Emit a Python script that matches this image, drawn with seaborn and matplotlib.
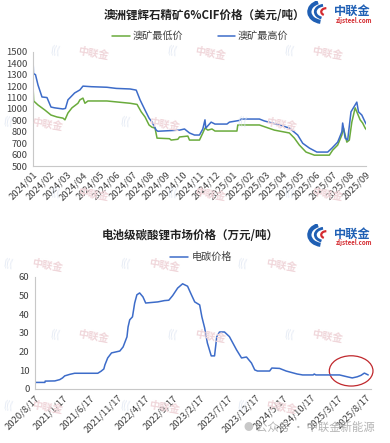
import matplotlib
matplotlib.use("Agg")
import matplotlib.pyplot as plt
import seaborn as sns
import pandas as pd
from matplotlib.patches import Ellipse, Arc

# ---- 上图：澳洲锂辉石精矿 6% CIF（美元/吨），x 为月序号 0 = 2024/01
low_month = [0, 0.04, 0.3, 0.72, 1.08, 1.44, 1.8, 1.92, 2.1, 2.34, 2.7, 2.82, 3.0, 3.12, 3.3,
             4.44, 5.83, 6.25, 6.5, 6.73, 6.97, 7.15, 7.33, 7.45, 8.2, 8.3, 8.7, 8.8, 9.3,
             9.4, 10.0, 10.2, 10.33, 10.5, 10.75, 10.93, 12.25, 12.3, 13.6, 14.5, 15.4,
             15.7, 16.0, 16.4, 16.9, 17.8, 18.0, 18.3, 18.55, 18.65, 18.85, 19.0, 19.15,
             19.35, 19.45, 19.65, 19.8, 19.95, 20.05]
low_price = [1210, 1070, 1035, 990, 947, 930, 920, 905, 965, 1010, 1050, 1080, 1095, 1050, 1070,
             1070, 1050, 1040, 975, 930, 860, 840, 833, 745, 740, 728, 735, 755, 763,
             728, 728, 790, 833, 815, 825, 807, 807, 860, 860, 815, 790,
             745, 684, 623, 596, 596, 640, 684, 772, 833, 710, 728, 885,
             1010, 975, 905, 877, 833, 815]

high_month = [0, 0.03, 0.15, 0.3, 0.54, 0.84, 1.08, 1.3, 1.8, 1.95, 2.1, 2.5, 2.82, 3.0, 3.5,
              4.44, 5.0, 5.83, 6.2, 6.43, 6.73, 6.97, 7.15, 7.4, 7.5, 8.8, 9.1, 9.4, 9.7,
              10.0, 10.2, 10.33, 10.38, 10.7, 10.93, 11.65, 11.8, 12.4, 12.5, 13.6, 13.9,
              14.8, 15.4, 15.9, 16.2, 16.6, 17.05, 17.7, 17.96, 18.3, 18.55, 18.6, 18.75,
              18.9, 19.1, 19.45, 19.55, 19.75, 19.95, 20.05]
high_price = [1456, 1310, 1300, 1210, 1105, 1100, 1017, 1010, 1000, 1005, 1080, 1140, 1167, 1200, 1195,
              1190, 1180, 1175, 1165, 1080, 990, 920, 885, 815, 805, 815, 825, 790, 772,
              772, 825, 905, 833, 885, 868, 868, 885, 900, 912, 912, 895,
              860, 833, 772, 700, 658, 623, 623, 658, 710, 800, 877, 745,
              728, 975, 1060, 975, 947, 885, 860]

top_ticks = list(range(0, 21))
top_labels = ["2024/01", "2024/02", "2024/03", "2024/04", "2024/05", "2024/06", "2024/07",
              "2024/08", "2024/09", "2024/10", "2024/11", "2024/12", "2025/01", "2025/02",
              "2025/03", "2025/04", "2025/05", "2025/06", "2025/07", "2025/08", "2025/09"]

# ---- 下图：电池级碳酸锂（万元/吨），x 为月序号 0 = 2020/8/17
li_month = [0, 1.8, 1.85, 3.6, 4.5, 5.0, 5.4, 6.3, 7.2, 11.4, 12.0, 12.5, 12.7, 13.2, 13.9,
            15.4, 16.0, 16.7, 16.9, 17.2, 17.7, 18.1, 18.5, 19.0, 19.6, 20.1, 22.3, 23.5,
            24.3, 25, 25.9, 26.8, 27.7, 28.4, 29, 29.9, 30.3, 30.8, 31.3, 32, 32.6, 33,
            33.5, 34.4, 35.3, 36.6, 37.5, 38.4, 39.3, 39.9, 40.4, 42.6, 43, 44.4, 45.6,
            47.6, 48.6, 50.5, 50.7, 51.0, 55.3, 56.7, 57.6, 58.5, 59.2, 59.8, 60.5]
li_price = [3.5, 3.5, 4.2, 4.3, 5, 5.9, 7, 7.8, 8.4, 8.4, 9.5, 10.7, 12.9, 16.6, 19.3,
            20.3, 22.5, 27.9, 33.2, 37, 38.6, 46, 50.4, 51.4, 49.3, 46, 46.6, 47.3,
            47.5, 50, 54, 56.3, 55, 50.4, 46.6, 45, 38.6, 32.7, 24.6, 17.7, 17.7, 27.9,
            30.5, 30.5, 28, 20.9, 16.6, 17.1, 13.9, 10.2, 9.6, 9.6, 11.2, 11, 9.6,
            8, 7.5, 7.5, 8, 7.5, 7.5, 6.5, 5.9, 6.5, 7.3, 8.5, 7.5]

bot_ticks = list(range(0, 61, 5))
bot_labels = ["2020/8/17", "2021/1/17", "2021/6/17", "2021/11/17", "2022/4/17", "2022/9/17",
              "2023/2/17", "2023/7/17", "2023/12/17", "2024/5/17", "2024/10/17", "2025/3/17",
              "2025/8/17"]

BLUE = "#3d6cc9"
GREEN = "#6aab3c"
GREY = "#c8c8c8"

sns.set_theme(style="white")
plt.rcParams['font.family'] = ['Noto Sans CJK SC', 'DejaVu Sans']
plt.rcParams['axes.unicode_minus'] = False

fig = plt.figure(figsize=(3.9, 4.43), dpi=100)
fig.patch.set_facecolor("white")

# 水印（很淡）
for row, wy in enumerate([0.08, 0.24, 0.40, 0.56, 0.72, 0.88]):
    off = 0.12 if row % 2 else 0.0
    for wx in [0.12, 0.42, 0.72]:
        fig.text(wx + off, wy, "中联金", fontsize=7.5, color="#f0d6da",
                 rotation=-10, ha="center", va="center", fontweight="bold", zorder=0)
        fig.text(wx + off - 0.1, wy + 0.005, "(((", fontsize=7, color="#dfe6f2",
                 rotation=-10, ha="center", va="center", zorder=0)


def style_axes(ax):
    for s in ["top", "right"]:
        ax.spines[s].set_visible(False)
    for s in ["left", "bottom"]:
        ax.spines[s].set_color(GREY)
        ax.spines[s].set_linewidth(0.8)
    ax.tick_params(axis="both", which="both", length=2.5, width=0.6, color=GREY,
                   labelsize=6.8, labelcolor="#404040", pad=1.5, direction="out")
    ax.tick_params(axis="x", pad=0.5)
    ax.patch.set_alpha(0)
    ax.set_xlabel("")
    ax.set_ylabel("")


# ---- 上图
ax1 = fig.add_axes([0.0846, 0.625, 0.8538, 0.258])
df_low = pd.DataFrame({"月": low_month, "价格": low_price})
df_high = pd.DataFrame({"月": high_month, "价格": high_price})
sns.lineplot(data=df_low, x="月", y="价格", ax=ax1, color=GREEN, lw=1.1,
             estimator=None, sort=False)
sns.lineplot(data=df_high, x="月", y="价格", ax=ax1, color=BLUE, lw=1.1,
             estimator=None, sort=False)
ax1.set_xlim(0, 20)
ax1.set_ylim(500, 1500)
ax1.set_yticks(range(500, 1501, 100))
ax1.set_xticks(top_ticks)
ax1.set_xticklabels(top_labels, rotation=45, ha="right", rotation_mode="anchor")
style_axes(ax1)

fig.text(0.525, 0.966, "澳洲锂辉石精矿6%CIF价格（美元/吨）", fontsize=8.3,
         fontweight="bold", color="#222222", ha="center", va="center")
fig.lines.append(plt.Line2D([112 / 390, 130 / 390], [1 - 36 / 443] * 2, color=GREEN,
                            lw=1.1, transform=fig.transFigure))
fig.text(133 / 390, 1 - 36 / 443, "澳矿最低价", fontsize=7.3, color="#404040", va="center")
fig.lines.append(plt.Line2D([218 / 390, 235 / 390], [1 - 36 / 443] * 2, color=BLUE,
                            lw=1.1, transform=fig.transFigure))
fig.text(238 / 390, 1 - 36 / 443, "澳矿最高价", fontsize=7.3, color="#404040", va="center")

# ---- 下图
ax2 = fig.add_axes([0.0897, 0.122, 0.8615, 0.253])
df_li = pd.DataFrame({"月": li_month, "电碳价格": li_price})
sns.lineplot(data=df_li, x="月", y="电碳价格", ax=ax2, color=BLUE, lw=1.1,
             estimator=None, sort=False)
ax2.set_xlim(0, 61)
ax2.set_ylim(0, 60)
ax2.set_yticks(range(0, 61, 10))
ax2.set_xticks(bot_ticks)
ax2.set_xticklabels(bot_labels, rotation=45, ha="right", rotation_mode="anchor")
style_axes(ax2)

ax2.add_patch(Ellipse((0.941, 0.161), 0.13, 0.27, transform=ax2.transAxes,
                      fill=False, ec="#c0282d", lw=0.9, clip_on=False))

fig.text(0.487, 1 - 236 / 443, "电池级碳酸锂市场价格（万元/吨）", fontsize=8.3,
         fontweight="bold", color="#222222", ha="center", va="center")
fig.lines.append(plt.Line2D([170 / 390, 188 / 390], [1 - 257 / 443] * 2, color=BLUE,
                            lw=1.1, transform=fig.transFigure))
fig.text(192 / 390, 1 - 257 / 443, "电碳价格", fontsize=7.3, color="#404040", va="center")

# ---- 标志
for ly in [13 / 443, 236 / 443]:
    lax = fig.add_axes([300 / 390, 1 - ly - 12 / 443, 34 / 390, 24 / 443])
    lax.set_xlim(-1, 1)
    lax.set_ylim(-1, 1)
    lax.axis("off")
    lax.add_patch(Arc((0.35, 0.1), 1.6, 1.7, theta1=110, theta2=260, color="#1f5fb4", lw=3))
    lax.add_patch(Arc((0.45, 0.1), 1.1, 1.1, theta1=100, theta2=250, color="#1f5fb4", lw=2))
    lax.add_patch(Arc((0.55, 0.1), 0.6, 0.6, theta1=90, theta2=240, color="#d42a2f", lw=1.6))
    fig.text(334 / 390, 1 - (ly * 443 - 2) / 443, "中联金", fontsize=8.8, fontweight="bold",
             color="#1f5fb4", va="center")
    fig.text(336 / 390, 1 - (ly * 443 + 7) / 443, "zljsteel.com", fontsize=4.4,
             color="#d42a2f", va="center", fontweight="bold")

fig.text(244 / 390, 1 - 427 / 443, "●", fontsize=7, color="#c8c8c8", va="center")
fig.text(256 / 390, 1 - 427 / 443, "公众号 · 中联金新能源", fontsize=8.2,
         color="#b4b4b4", va="center")

fig.savefig("out.png", dpi=100, facecolor="white")
